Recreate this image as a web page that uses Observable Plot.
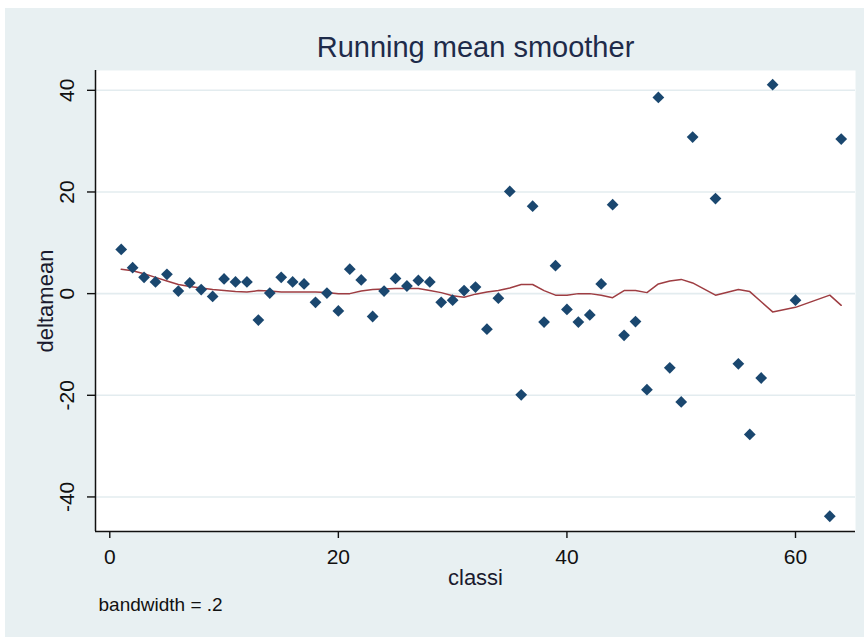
<!DOCTYPE html>
<html>
<head>
<meta charset="utf-8">
<script src="https://cdn.jsdelivr.net/npm/d3@7"></script>
<script src="https://cdn.jsdelivr.net/npm/@observablehq/plot@0.6"></script>
<style>
  html, body { margin: 0; padding: 0; background: #ffffff; }
  #chart { position: relative; width: 864px; height: 637px; overflow: hidden; }
  #bg { position: absolute; left: 5px; top: 8px; width: 859px; height: 629px; background: #e8f0f2; }
  #chart svg { position: absolute; left: 0; top: 0; }
</style>
</head>
<body>
<div id="chart"><div id="bg"></div></div>
<script>
// ---- data ----
const classi = [1,2,3,4,5,6,7,8,9,10,11,12,13,14,15,16,17,18,19,20,
  21,22,23,24,25,26,27,28,29,30,31,32,33,34,35,36,37,38,39,40,
  41,42,43,44,45,46,47,48,49,50,51,53,55,56,57,58,60,63,64];
const deltamean = [8.7,5.1,3.2,2.3,3.8,0.5,2.1,0.8,-0.55,2.9,2.3,2.3,-5.2,0.1,3.2,2.3,1.9,-1.7,0.1,-3.4,
  4.8,2.7,-4.5,0.5,3.0,1.5,2.6,2.3,-1.7,-1.3,0.6,1.3,-7.0,-0.9,20.1,-19.9,17.2,-5.6,5.5,-3.1,
  -5.6,-4.2,1.9,17.5,-8.2,-5.5,-18.9,38.6,-14.6,-21.3,30.8,18.7,-13.8,-27.7,-16.6,41.1,-1.3,-43.8,30.4];
const runningMean = [4.8,4.5,3.9,3.2,2.5,1.8,1.4,1.1,0.8,0.6,0.4,0.3,0.6,0.5,0.3,0.3,0.3,0.3,0.2,0.0,
  0.0,0.5,0.8,0.9,1.0,1.0,1.0,0.6,0.2,-0.4,-0.7,-0.1,0.3,0.6,1.1,1.8,1.8,0.6,-0.3,-0.3,
  0.0,0.0,-0.3,-0.8,0.6,0.6,0.2,1.9,2.5,2.8,2.1,-0.3,0.8,0.4,-1.6,-3.6,-2.7,-0.3,-2.3];
const xTicks = [0, 20, 40, 60];
const yTicks = [-40, -20, 0, 20, 40];
const titleText = "Running mean smoother";
const xLabel = "classi";
const yLabel = "deltamean";
const noteText = "bandwidth = .2";
const xDomain = [-1.25, 65.25];
const yDomain = [-46.8, 43.9];

const points = classi.map((c, i) => ({classi: c, deltamean: deltamean[i], smooth: runningMean[i]}));
const font = "'Liberation Sans', Arial, Helvetica, sans-serif";

const chart = Plot.plot({
  width: 864,
  height: 637,
  marginLeft: 95,
  marginRight: 9,
  marginTop: 70,
  marginBottom: 106,
  style: {background: "transparent", fontFamily: font, overflow: "visible"},
  x: {domain: xDomain, axis: null},
  y: {domain: yDomain, axis: null},
  marks: [
    Plot.frame({fill: "#ffffff", stroke: "none"}),
    Plot.gridY(yTicks, {stroke: "#e3ecef", strokeOpacity: 1, strokeWidth: 1.6}),
    Plot.line(points, {x: "classi", y: "smooth", stroke: "#9e3d42", strokeWidth: 1.5}),
    Plot.dot(points, {x: "classi", y: "deltamean", symbol: "diamond2", r: 5.3, fill: "#1a476f", stroke: "none"}),
    Plot.ruleX([xDomain[0]], {stroke: "#111111", strokeWidth: 1.5}),
    Plot.ruleY([yDomain[0]], {stroke: "#111111", strokeWidth: 1.5}),
    Plot.axisY(yTicks, {anchor: "left", tickSize: 8, fill: "none", label: null, stroke: "#111111", strokeWidth: 1.4}),
    Plot.axisX(xTicks, {anchor: "bottom", tickSize: 7, fill: "none", label: null, stroke: "#111111", strokeWidth: 1.4}),
    Plot.text(yTicks, {y: d => d, text: d => String(d), frameAnchor: "left", dx: -28, rotate: -90,
      textAnchor: "middle", lineAnchor: "middle", fontSize: 21, fill: "#111111"}),
    Plot.text(xTicks, {x: d => d, text: d => String(d), frameAnchor: "bottom", dy: 26,
      textAnchor: "middle", lineAnchor: "middle", fontSize: 21, fill: "#111111"}),
    Plot.text([titleText], {frameAnchor: "top", dy: -23, textAnchor: "middle", lineAnchor: "middle", fontSize: 29, fill: "#1e2b4a"}),
    Plot.text([yLabel], {frameAnchor: "left", dx: -50, rotate: -90, textAnchor: "middle", lineAnchor: "middle", fontSize: 22, fill: "#1a1a2e"}),
    Plot.text([xLabel], {frameAnchor: "bottom", dy: 46, textAnchor: "middle", lineAnchor: "middle", fontSize: 22, fill: "#1a1a2e"}),
    Plot.text([noteText], {frameAnchor: "bottom-left", dx: 3, dy: 73, textAnchor: "start", lineAnchor: "middle", fontSize: 19, fill: "#111111"})
  ]
});
document.getElementById("chart").appendChild(chart);
</script>
</body>
</html>
